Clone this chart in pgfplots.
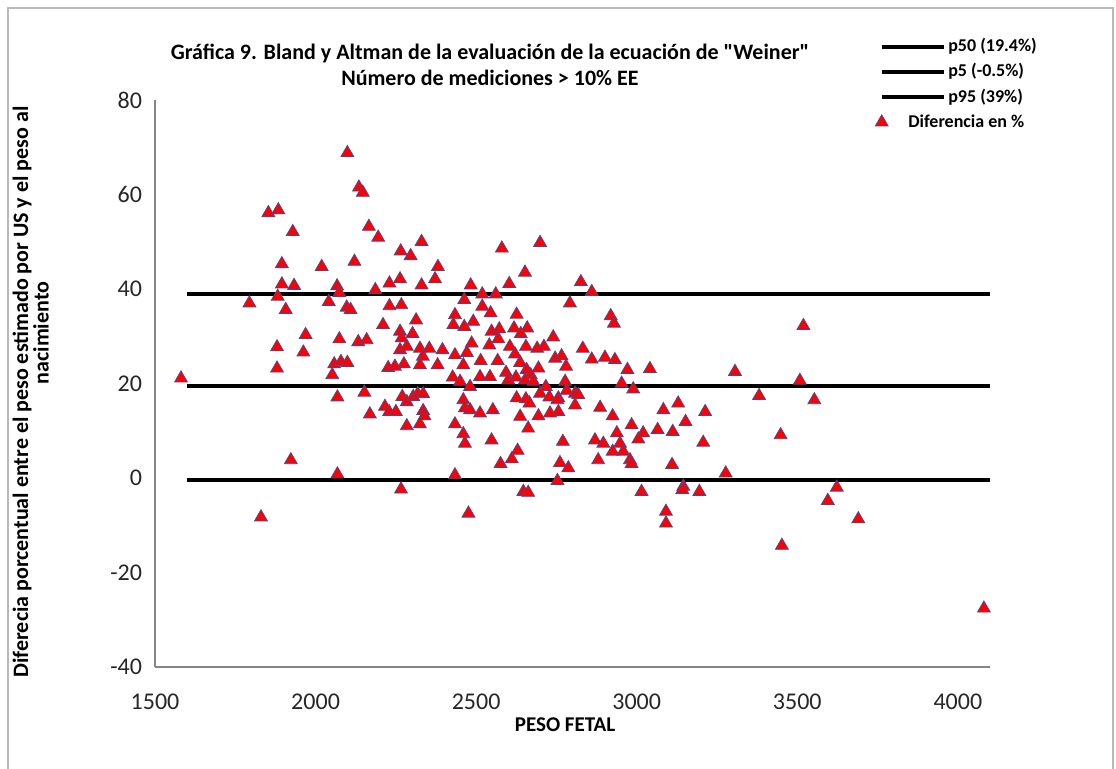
\documentclass[border=0pt]{standalone}
\usepackage{fontspec}
\setmainfont{Carlito}
\usepackage{pgfplots}
\pgfplotsset{compat=1.18}
\definecolor{mred}{RGB}{255,0,0}
\definecolor{medge}{RGB}{80,70,140}
\definecolor{axgray}{RGB}{134,134,134}
\pgfplotstableread{
x y
2099 68.8
2135 61.5
2147 60.4
1853 56.1
1884 56.7
1929 52.1
2166 53.2
2195 50.9
2330 50.0
2265 48.0
2296 47.0
1895 45.3
2019 44.7
2121 45.8
2381 44.7
1895 41.0
1933 40.7
2067 40.6
2074 39.2
2186 39.8
2230 41.2
2263 42.1
2330 40.8
2372 42.1
1794 37.0
1882 38.4
1907 35.6
2041 37.3
2097 36.1
2109 35.6
2230 36.4
2267 36.6
2313 33.4
2210 32.4
1969 30.3
2074 29.4
2133 28.8
2159 29.2
2263 31.0
2302 30.5
2268 29.6
1880 27.7
1962 26.6
2263 27.1
2284 27.8
2325 27.4
2354 27.4
2334 25.7
1880 23.2
2058 24.1
2079 24.6
2099 24.4
2052 21.8
2226 23.3
2247 23.6
2275 24.1
2325 23.9
2380 23.9
1581 21.1
2395 27.1
2068 17.1
2152 18.1
2270 17.2
2284 16.1
2304 17.2
2318 17.8
2335 17.8
2216 15.1
2229 14.0
2250 14.0
2169 13.5
2335 14.2
2339 13.1
2284 11.0
2325 11.4
1923 3.8
2068 0.8
2266 -2.4
1830 -8.3
2483 40.8
2603 41.1
2826 41.5
2860 39.4
2519 38.9
2561 38.9
2463 37.7
2792 37.0
2519 36.3
2434 34.5
2545 34.9
2626 34.6
2919 34.3
2929 32.7
2429 32.4
2463 32.0
2491 33.1
2548 31.0
2572 31.5
2618 31.7
2659 31.7
2639 30.5
2569 29.4
2541 28.1
2486 28.5
2605 27.8
2655 27.8
2740 29.8
2690 27.4
2711 27.8
2434 26.0
2471 26.5
2514 24.8
2567 24.8
2621 26.2
2460 23.9
2637 24.4
2832 27.4
2746 25.3
2766 25.8
2780 23.6
2860 25.1
2901 25.5
2932 25.0
2971 22.9
3041 23.1
2694 23.2
2657 22.9
2670 21.8
2593 22.3
2512 21.4
2543 21.4
2427 21.3
2450 20.4
2481 19.3
2600 20.7
2624 21.3
2652 20.7
2678 20.4
2777 20.4
2953 20.0
2989 18.8
2717 19.3
2699 17.9
2728 17.1
2756 16.9
2782 18.5
2808 17.9
2818 17.6
2626 16.9
2655 16.7
2666 15.8
2460 16.5
2465 14.8
2481 14.4
2512 13.7
2552 14.4
2753 16.5
2808 15.4
2756 14.0
2730 13.7
2694 13.1
2637 13.0
2886 14.9
2925 13.1
2434 11.4
2662 10.5
2984 11.2
3020 9.5
2460 9.3
2465 7.3
2548 8.0
2770 7.7
2870 8.0
2896 7.3
2938 9.5
2948 7.3
3005 8.2
2629 5.8
2925 5.6
2958 5.6
2611 4.0
2576 3.0
2880 3.8
2979 3.8
2984 3.0
2761 3.2
2787 2.1
2434 0.6
2753 -0.6
2647 -2.9
2662 -3.1
3015 -2.9
2580 48.6
2699 49.8
2652 43.5
2476 -7.5
3065 10.2
3083 14.4
3129 15.8
3213 14.0
3112 9.8
3152 11.9
3207 7.5
3110 2.8
3145 -1.8
3142 -2.5
3195 -2.9
3091 -7.1
3091 -9.6
3306 22.5
3381 17.4
3448 9.1
3277 1.0
3519 32.2
3508 20.6
3553 16.5
3623 -2.0
3595 -4.8
3690 -8.7
3452 -14.3
4081 -27.6
}\diffdata
\begin{document}
\begin{tikzpicture}[x=1pt,y=1pt]
\path[use as bounding box] (0,0) rectangle (558,384.5);
\draw[gray!55, line width=0.9pt] (4,-5) -- (4,380.5) -- (556.5,380.5) -- (556.5,-5);
\begin{axis}[
  at={(77.5pt,51pt)}, anchor=south west,
  width=417.5pt, height=283.5pt, scale only axis,
  xmin=1500, xmax=4100, ymin=-40, ymax=80,
  xtick={1500,2000,...,4000}, ytick={-40,-20,...,80},
  axis x line*=bottom, axis y line*=left,
  axis line style={axgray, line width=0.6pt, -},
  major tick length=0pt,
  tick label style={font=\fontsize{12}{14}\selectfont, text=black!85},
  /pgf/number format/assume math mode=true,
  /pgf/number format/set thousands separator={},
  xticklabel style={yshift=-10pt},
  yticklabel style={xshift=-3pt},
  clip=false,
  legend style={at={(0.855,1.124)}, anchor=north west, draw=none, fill=none,
    font=\bfseries\fontsize{9}{10}\selectfont, row sep=0pt,
    nodes={text height=7.5pt, text depth=2.5pt, inner sep=1.3pt},
    cells={anchor=west}},
]
\addplot[black, line width=2pt, legend image code/.code={\draw[black,line width=2pt] (0pt,0pt) -- (31pt,0pt);}] coordinates {(1600,19.4) (4100,19.4)};
\addlegendentry{p50 (19.4\%)}
\addplot[black, line width=2pt, legend image code/.code={\draw[black,line width=2pt] (0pt,0pt) -- (31pt,0pt);}] coordinates {(1600,-0.5) (4100,-0.5)};
\addlegendentry{p5 (-0.5\%)}
\addplot[black, line width=2pt, legend image code/.code={\draw[black,line width=2pt] (0pt,0pt) -- (31pt,0pt);}] coordinates {(1600,39) (4100,39)};
\addlegendentry{p95 (39\%)}
\addplot[only marks, mark=triangle*, mark size=3.7pt,
  mark options={fill=mred, draw=medge, line width=0.4pt},
  legend image code/.code={\draw[mark repeat=2,mark phase=2] plot coordinates {(-4pt,0pt) (0pt,0pt) (4pt,0pt)};}]
  table[x=x,y=y] {\diffdata};
\addlegendentry{\hspace*{-20pt}Diferencia en \%}
\end{axis}
\node[font=\bfseries\fontsize{11}{13}\selectfont, align=center] at (245,352) {Gráfica 9. Bland y Altman de la evaluación de la ecuación de \textquotedbl Weiner\textquotedbl\\Número de mediciones > 10\% EE};
\node[font=\bfseries\fontsize{10.5}{12}\selectfont] at (282.5,22) {PESO FETAL};
\node[font=\bfseries\fontsize{11}{13}\selectfont, rotate=90] at (11,188.5) {Diferecia porcentual entre el peso estimado por US y el peso al};
\node[font=\bfseries\fontsize{11}{13}\selectfont, rotate=90] at (20.5,218) {nacimiento};
\end{tikzpicture}
\end{document}
